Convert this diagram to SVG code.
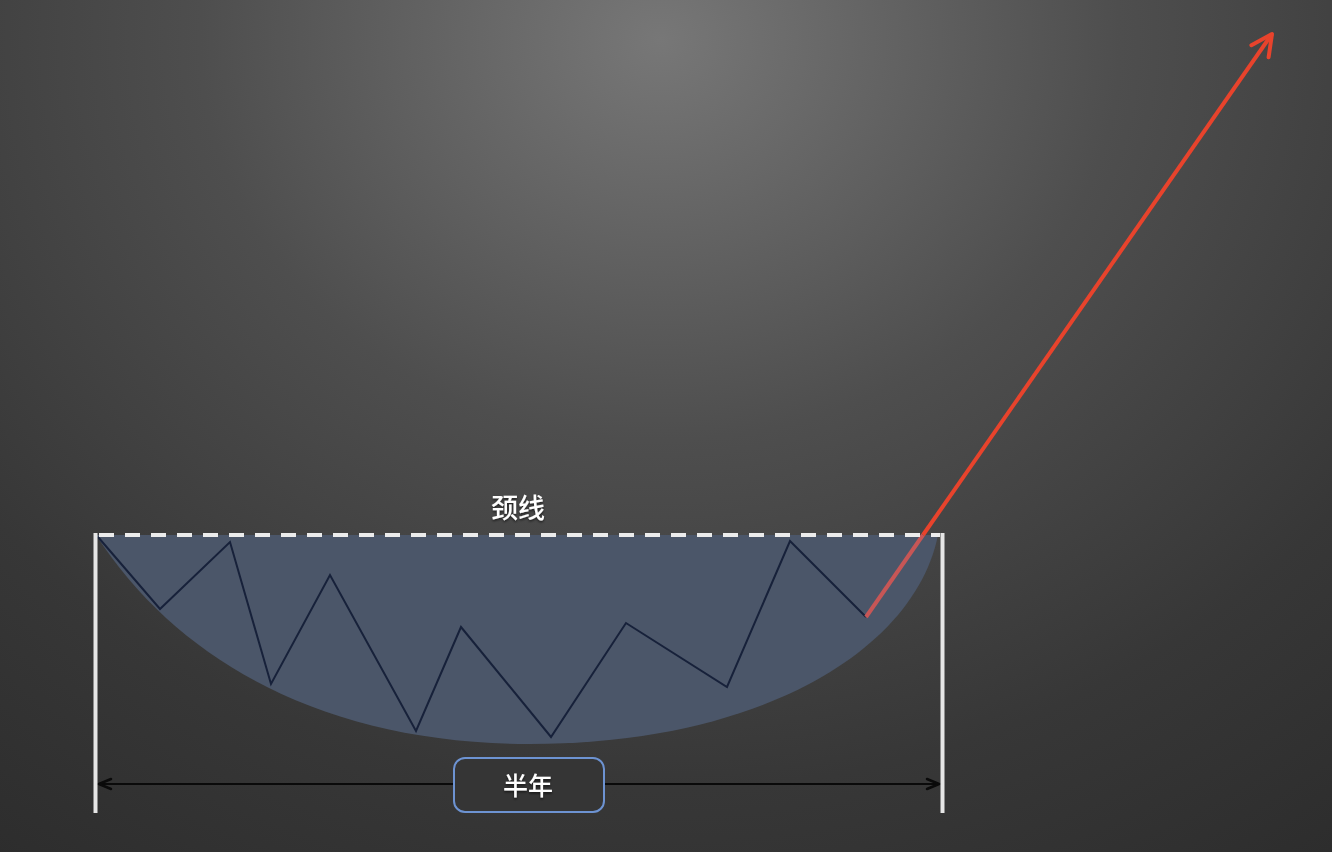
<svg xmlns="http://www.w3.org/2000/svg" width="1332" height="852" viewBox="0 0 1332 852">
  <defs>
    <radialGradient id="bg" gradientUnits="userSpaceOnUse" cx="660" cy="40" r="1000" gradientTransform="translate(660 40) scale(1.15 1) translate(-660 -40)">
      <stop offset="0" stop-color="#777777"/>
      <stop offset="0.4" stop-color="#4e4e4e"/>
      <stop offset="0.75" stop-color="#373737"/>
      <stop offset="1" stop-color="#2d2d2d"/>
    </radialGradient>
    <marker id="redHead" markerUnits="userSpaceOnUse" viewBox="-26 -14 30 28" refX="0" refY="0" markerWidth="30" markerHeight="28" orient="auto" overflow="visible">
      <path d="M -21,-10.5 L 0,0 L -21,10.5" fill="none" stroke="#e8432c" stroke-width="4" stroke-linecap="round" stroke-linejoin="round"/>
    </marker>
    <marker id="blackHead" markerUnits="userSpaceOnUse" viewBox="-16 -8 18 16" refX="0" refY="0" markerWidth="18" markerHeight="16" orient="auto-start-reverse" overflow="visible">
      <path d="M -12,-5 L 0,0 L -12,5" fill="none" stroke="#0a0a0a" stroke-width="2.5" stroke-linecap="round" stroke-linejoin="round"/>
    </marker>
    <filter id="shadow" x="-20%" y="-20%" width="140%" height="160%">
      <feDropShadow dx="0" dy="1.5" stdDeviation="1.2" flood-color="#000" flood-opacity="0.6"/>
    </filter>
    <style>
      .label { font-family: "Noto Sans CJK SC", "Noto Sans", sans-serif; font-weight: 500; fill: #ffffff; text-anchor: middle; filter: url(#shadow); }
      .bound { stroke: #e6e6e6; stroke-width: 4; fill: none; }
      .zig { stroke: #17213a; stroke-width: 2; fill: none; stroke-linejoin: miter; }
    </style>
  </defs>

  <rect width="1332" height="852" fill="url(#bg)"/>

  <g id="bowl">
    <path d="M 96,535 C 180,665 330,744 530,744 C 760,744 915,650 938,535 Z" fill="#4b5669"/>
  </g>

  <g id="price-path">
    <polyline class="zig" points="98,537 160,609 230,542 271,684 330,575 416,731 461,627 551,737 626,623 727,687 790,541 866,617"/>
  </g>

  <g id="bounds">
    <line class="bound" x1="95.5" y1="533" x2="95.5" y2="813"/>
    <line class="bound" x1="942.5" y1="533" x2="942.5" y2="813"/>
  </g>

  <g id="connectors">
    <line x1="866" y1="617" x2="923" y2="535" stroke="#c75656" stroke-width="4"/>
    <line x1="923" y1="535" x2="1272" y2="34" stroke="#e8432c" stroke-width="4" marker-end="url(#redHead)"/>
    <line x1="99" y1="784" x2="939" y2="784" stroke="#0a0a0a" stroke-width="2" marker-start="url(#blackHead)" marker-end="url(#blackHead)"/>
  </g>

  <g id="neckline">
    <line x1="99" y1="535" x2="940" y2="535" stroke="#ececec" stroke-width="4" stroke-dasharray="15 11"/>
    <text class="label" x="518" y="518" font-size="27">颈线</text>
  </g>

  <g id="period-label">
    <rect x="454" y="758" width="150" height="54" rx="11" ry="11" fill="#353535" stroke="#6d93d2" stroke-width="2"/>
    <text class="label" x="528" y="795" font-size="25">半年</text>
  </g>
</svg>
